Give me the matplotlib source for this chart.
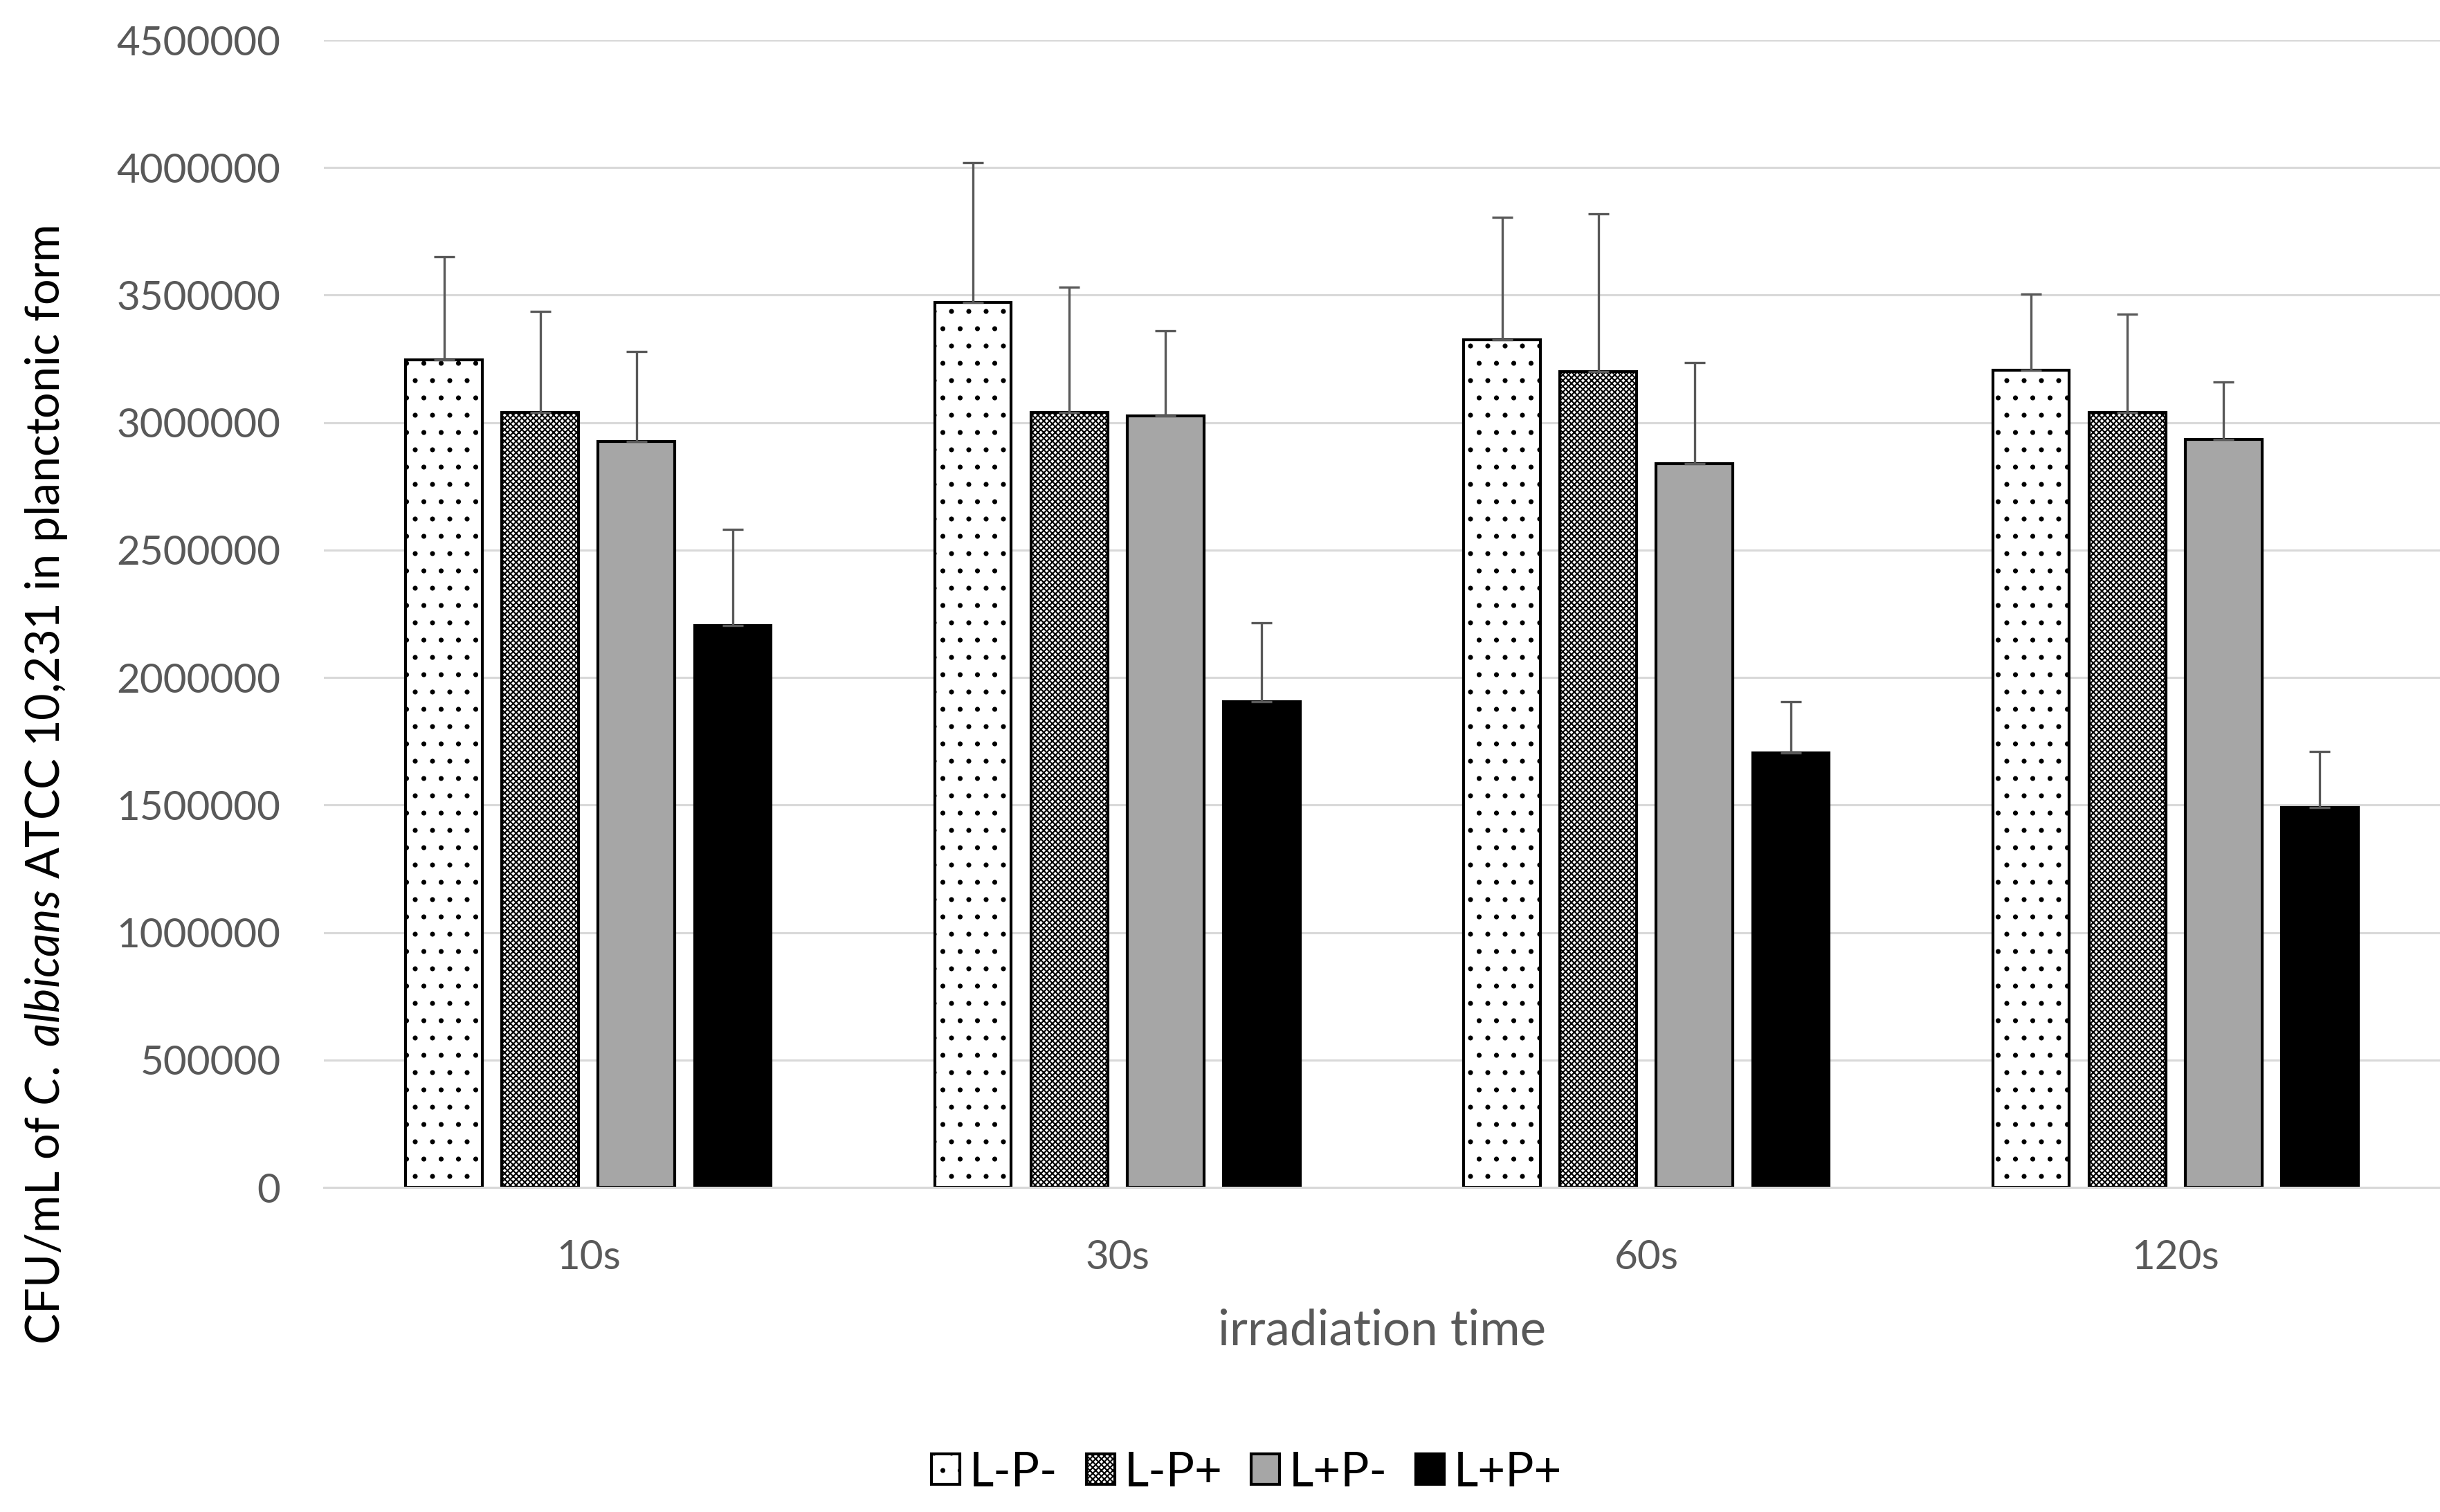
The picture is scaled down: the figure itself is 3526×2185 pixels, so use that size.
import numpy as np
import matplotlib
matplotlib.use("Agg")
import matplotlib.pyplot as plt
from matplotlib.ticker import FuncFormatter

# --- data ---
times = ["10s", "30s", "60s", "120s"]
groups = ["L-P-", "L-P+", "L+P-", "L+P+"]

lp_minus_minus = [3245000, 3470000, 3325000, 3205000]
lp_minus_plus = [3040000, 3040000, 3200000, 3040000]
lp_plus_minus = [2925000, 3025000, 2840000, 2935000]
lp_plus_plus = [2205000, 1905000, 1705000, 1490000]

err_mm = [405000, 550000, 480000, 300000]
err_mp = [395000, 490000, 620000, 385000]
err_pm = [355000, 335000, 395000, 225000]
err_pp = [375000, 310000, 200000, 220000]

yticks = list(range(0, 4500001, 500000))

# --- style ---
plt.rcParams['font.family'] = ['Lato', 'DejaVu Sans']
plt.rcParams['mathtext.fontset'] = 'custom'
plt.rcParams['mathtext.rm'] = 'Lato'
plt.rcParams['mathtext.it'] = 'Lato:italic'
plt.rcParams['hatch.linewidth'] = 1.0

DPI = 150
fig = plt.figure(figsize=(3526 / DPI, 2185 / DPI), dpi=DPI)
ax = fig.add_axes([468 / 3526, 1 - 1716 / 2185, (3526 - 468) / 3526, (1716 - 58) / 2185])

values = [lp_minus_minus, lp_minus_plus, lp_plus_minus, lp_plus_plus]
errors = [err_mm, err_mp, err_pm, err_pp]
faces = ['white', 'white', '#a6a6a6', 'black']
hatches = ['.', 'xxxxxx', None, None]

x = np.arange(len(times))
step = 0.182
width = 0.145
for i, (vals, errs) in enumerate(zip(values, errors)):
    pos = x + (i - 1.5) * step
    ax.bar(pos, vals, width, color=faces[i], edgecolor='black', linewidth=2.0,
           hatch=hatches[i], label=groups[i], zorder=2)
    ax.errorbar(pos, vals, yerr=[np.zeros(len(errs)), errs], fmt='none',
                ecolor='#595959', elinewidth=1.6, capsize=7, capthick=1.6, zorder=3)

ax.set_xlim(-0.5, len(times) - 0.5)
ax.set_ylim(0, 4500000)
ax.set_yticks(yticks)
ax.yaxis.set_major_formatter(FuncFormatter(lambda v, _: f"{int(v)}"))
ax.set_xticks(x)
ax.set_xticklabels(times)

ax.grid(axis='y', color='#d9d9d9', linewidth=1.5, zorder=0)
ax.set_axisbelow(True)
for s in ['top', 'right', 'left']:
    ax.spines[s].set_visible(False)
ax.spines['bottom'].set_color('#d9d9d9')
ax.spines['bottom'].set_linewidth(1.5)
ax.tick_params(axis='both', length=0, labelsize=28, labelcolor='#595959')
ax.tick_params(axis='y', pad=30)
ax.tick_params(axis='x', pad=36)

ax.set_xlabel("irradiation time", fontsize=34, color='#595959')
ax.xaxis.set_label_coords(0.5, -0.105)

fig.text(67 / 3526, 1 - 1135 / 2185,
         r"CFU/mL of $\mathit{C.\ albicans}$ ATCC 10,231 in planctonic form",
         rotation=90, ha='center', va='center', fontsize=32, color='black')

fig.legend(loc='center', bbox_to_anchor=(0.511, 1 - 2128 / 2185), ncol=4,
           frameon=False, fontsize=33, handlelength=0.6, handleheight=0.6,
           handletextpad=0.2, columnspacing=0.6)

fig.savefig("out.png", dpi=DPI)
